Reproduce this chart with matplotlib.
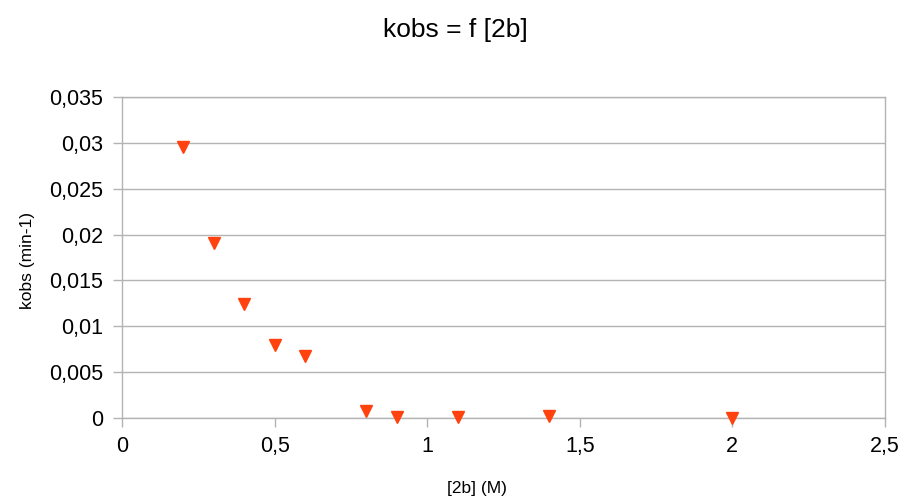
import matplotlib
matplotlib.use("Agg")
import matplotlib.pyplot as plt
from matplotlib.ticker import MultipleLocator, FuncFormatter

conc = [0.2, 0.3, 0.4, 0.5, 0.6, 0.8, 0.9, 1.1, 1.4, 2.0]
kobs = [0.0295, 0.0191, 0.0124, 0.0080, 0.0068, 0.0008, 0.0001, 0.0001, 0.0002, 0.0000]

plt.rcParams['font.family'] = ['Liberation Sans', 'DejaVu Sans']
grey = '#b3b3b3'

fig = plt.figure(figsize=(9.01, 4.98), dpi=100)
ax = fig.add_axes([0.1354, 0.1606, 0.8468, 0.6446])

ax.plot(conc, kobs, linestyle='none', marker='v', markersize=8,
        color='#ff420e', markeredgecolor='#ff420e', clip_on=False, zorder=3)

ax.set_xlim(0, 2.5)
ax.set_ylim(0, 0.035)
ax.xaxis.set_major_locator(MultipleLocator(0.5))
ax.yaxis.set_major_locator(MultipleLocator(0.005))

# decimal comma, no trailing zeros
def comma(v, pos):
    s = ('%.3f' % v).rstrip('0').rstrip('.')
    return s.replace('.', ',')

ax.xaxis.set_major_formatter(FuncFormatter(comma))
ax.yaxis.set_major_formatter(FuncFormatter(comma))

ax.grid(axis='y', color=grey, linewidth=1)
ax.set_axisbelow(True)
for sp in ax.spines.values():
    sp.set_color(grey)
    sp.set_linewidth(1)
ax.tick_params(length=6.5, width=1, color=grey, labelsize=15.5)
ax.tick_params(axis='y', pad=7)
ax.tick_params(axis='x', pad=6.5)

ax.set_xlabel("[2b] (M)", fontsize=12.5, va='center')
ax.set_ylabel("kobs (min-1)", fontsize=12.5, va='center')
ax.xaxis.set_label_coords(0.4646, -0.22)
ax.yaxis.set_label_coords(-0.1245, 0.49)
fig.suptitle("kobs = f [2b]", fontsize=19, x=0.505, y=0.94, va='center')

fig.savefig("out.png", dpi=100)
